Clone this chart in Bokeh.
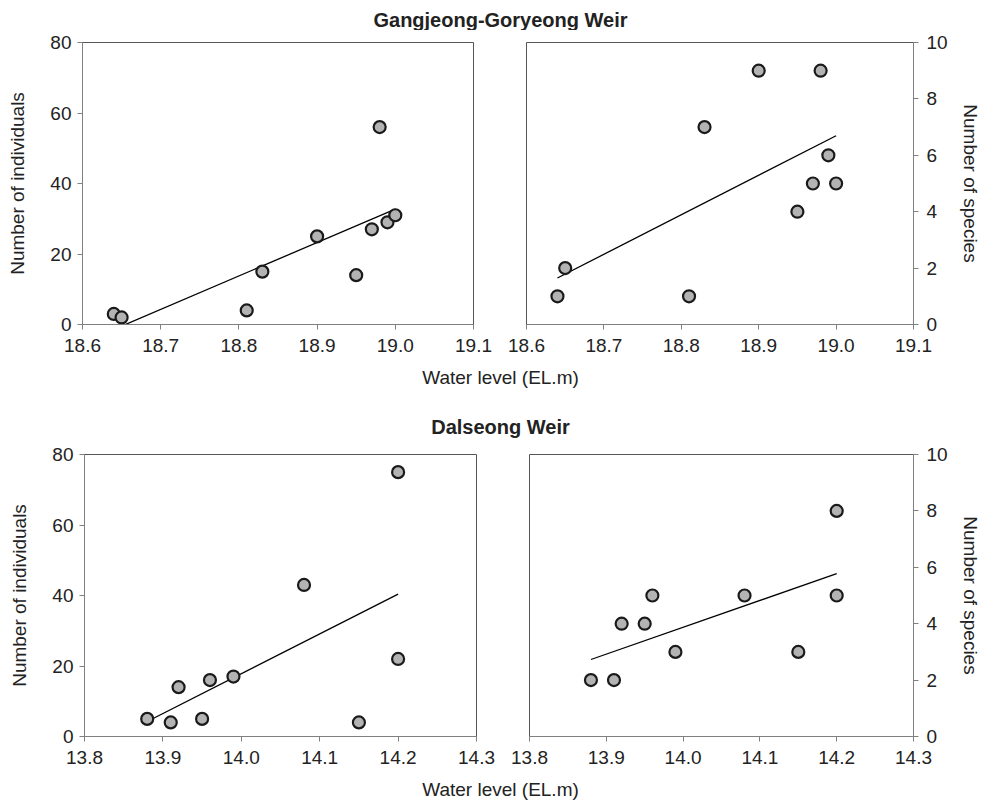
import numpy as np
from bokeh.plotting import figure
from bokeh.layouts import column, row
from bokeh.models import Range1d, FixedTicker, PrintfTickFormatter, Label
from bokeh.embed import file_html
from bokeh.resources import INLINE

# ---------------- data ----------------
gang_title = "Gangjeong-Goryeong Weir"
dal_title = "Dalseong Weir"
x_label = "Water level (EL.m)"
y_label_left = "Number of individuals"
y_label_right = "Number of species"

gang_level = [18.64, 18.65, 18.81, 18.83, 18.90, 18.95, 18.97, 18.98, 18.99, 19.00]
gang_individuals = [3, 2, 4, 15, 25, 14, 27, 56, 29, 31]
gang_species = [1, 2, 1, 7, 9, 4, 5, 9, 6, 5]

dal_level = [13.88, 13.91, 13.92, 13.95, 13.96, 13.99, 14.08, 14.15, 14.20, 14.20]
dal_individuals = [5, 4, 14, 5, 16, 17, 43, 4, 75, 22]
dal_species = [2, 2, 4, 4, 5, 3, 5, 3, 8, 5]

gang_xticks = [18.6, 18.7, 18.8, 18.9, 19.0, 19.1]
dal_xticks = [13.8, 13.9, 14.0, 14.1, 14.2, 14.3]
ind_yticks = [0, 20, 40, 60, 80]
spp_yticks = [0, 2, 4, 6, 8, 10]

FONT = "Liberation Sans"
TXT = "#222222"
AXC = "#808080"
OUTC = "#555555"


def panel(xs, ys, xticks, yticks, side, borders, frame_w, ylabel):
    left, right, top, bottom = borders
    w = left + frame_w + right
    h = top + 282 + bottom
    p = figure(width=w, height=h, output_backend="svg", toolbar_location=None,
               x_range=Range1d(xticks[0], xticks[-1]),
               y_range=Range1d(yticks[0], yticks[-1]),
               y_axis_location=side, min_border_left=left, min_border_right=right,
               min_border_top=top, min_border_bottom=bottom)
    p.grid.visible = False
    p.outline_line_color = OUTC
    p.outline_line_width = 1
    for ax in (p.xaxis[0], p.yaxis[0]):
        ax.axis_line_color = AXC
        ax.major_tick_line_color = AXC
        ax.minor_tick_line_color = None
        ax.major_tick_in = 0
        ax.major_tick_out = 5
        ax.major_label_text_font = FONT
        ax.major_label_text_font_size = "19px"
        ax.major_label_text_color = TXT
    p.xaxis.ticker = FixedTicker(ticks=xticks)
    p.xaxis.formatter = PrintfTickFormatter(format="%.1f")
    p.xaxis.major_label_standoff = 9
    p.yaxis.ticker = FixedTicker(ticks=yticks)
    p.yaxis.major_label_standoff = 6 if side == "left" else 8
    p.yaxis.axis_label = ylabel
    p.yaxis.axis_label_text_font = FONT
    p.yaxis.axis_label_text_font_size = "19px"
    p.yaxis.axis_label_text_font_style = "normal"
    p.yaxis.axis_label_text_color = TXT
    if side == "left":
        p.yaxis.axis_label_standoff = 19
    else:
        p.yaxis.axis_label_standoff = 9
        p.yaxis.axis_label_orientation = "vertical"

    # linear trend line (least squares fit of the data)
    k, b = np.polyfit(xs, ys, 1)
    lx = [min(xs), max(xs)]
    p.line(lx, [k * v + b for v in lx], line_color="black", line_width=1.3)
    p.scatter(xs, ys, size=12, fill_color="#b3b3b3", line_color="#1a1a1a", line_width=2.2)
    return p


def banner(height, labels):
    p = figure(width=983, height=height, output_backend="svg", toolbar_location=None,
               x_range=Range1d(0, 983), y_range=Range1d(0, height),
               x_axis_location=None, y_axis_location=None, min_border=0)
    p.grid.visible = False
    p.outline_line_color = None
    for txt, y, bold in labels:
        p.add_layout(Label(x=500, y=y, text=txt, text_font=FONT,
                           text_font_size="20px" if bold else "19px",
                           text_font_style="bold" if bold else "normal",
                           text_color=TXT, text_align="center", text_baseline="middle"))
    return p


b1 = banner(30, [(gang_title, 11, True)])
p1 = panel(gang_level, gang_individuals, gang_xticks, ind_yticks, "left", (82, 27, 12, 38), 391, y_label_left)
p2 = panel(gang_level, gang_species, gang_xticks, spp_yticks, "right", (26, 65, 12, 38), 392, y_label_right)
b2 = banner(80, [(x_label, 65, False), (dal_title, 16, True)])
p3 = panel(dal_level, dal_individuals, dal_xticks, ind_yticks, "left", (84, 24, 12, 38), 392, y_label_left)
p4 = panel(dal_level, dal_species, dal_xticks, spp_yticks, "right", (29, 61, 12, 38), 393, y_label_right)
b3 = banner(30, [(x_label, 15, False)])

layout = column(b1, row(p1, p2), b2, row(p3, p4), b3)

open("out.html", "w").write(file_html(layout, INLINE))
